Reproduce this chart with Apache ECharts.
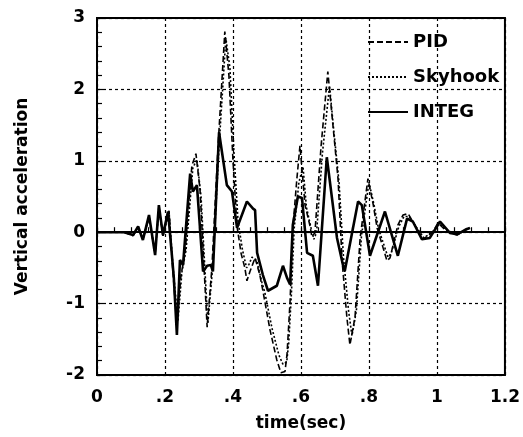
<!DOCTYPE html>
<html>
<head>
<meta charset="utf-8">
<script src="https://cdn.jsdelivr.net/npm/echarts@6/dist/echarts.min.js"></script>
<style>
html,body{margin:0;padding:0;background:#fff;}
#chart{width:523px;height:437px;}
</style>
</head>
<body>
<div id="chart"></div>
<script>
// Tick values
const xTicks = [0, 0.2, 0.4, 0.6, 0.8, 1, 1.2];
const yTicks = [-2, -1, 0, 1, 2, 3];

// INTEG (solid)
const integT = [0, 0.08, 0.106, 0.121, 0.135, 0.153, 0.171, 0.182, 0.194, 0.209, 0.221, 0.226, 0.235, 0.244, 0.253, 0.274, 0.282, 0.294, 0.312, 0.324, 0.335, 0.341, 0.359, 0.382, 0.397, 0.412, 0.441, 0.459, 0.465, 0.471, 0.488, 0.503, 0.529, 0.547, 0.559, 0.568, 0.576, 0.591, 0.603, 0.618, 0.635, 0.65, 0.676, 0.706, 0.724, 0.729, 0.768, 0.779, 0.803, 0.847, 0.885, 0.912, 0.929, 0.956, 0.979, 1.009, 1.038, 1.059, 1.082, 1.097];
const integV = [0, 0, -0.04, 0.08, -0.11, 0.24, -0.32, 0.38, -0.04, 0.29, -0.36, -0.64, -1.44, -0.39, -0.46, 0.82, 0.57, 0.66, -0.55, -0.47, -0.46, -0.55, 1.40, 0.66, 0.57, 0.06, 0.43, 0.33, 0.31, -0.29, -0.6, -0.82, -0.75, -0.47, -0.64, -0.73, 0.1, 0.5, 0.48, -0.29, -0.33, -0.75, 1.05, -0.08, -0.47, -0.54, 0.43, 0.38, -0.33, 0.29, -0.33, 0.19, 0.15, -0.1, -0.08, 0.15, -0.01, -0.03, 0.03, 0.06];

// PID (dashed)
const pidT = [0, 0.08, 0.106, 0.121, 0.135, 0.153, 0.171, 0.182, 0.194, 0.212, 0.221, 0.235, 0.247, 0.259, 0.279, 0.291, 0.303, 0.324, 0.338, 0.356, 0.376, 0.388, 0.4, 0.412, 0.424, 0.435, 0.441, 0.45, 0.465, 0.479, 0.488, 0.509, 0.529, 0.541, 0.553, 0.559, 0.568, 0.576, 0.588, 0.597, 0.612, 0.626, 0.632, 0.641, 0.659, 0.679, 0.694, 0.709, 0.721, 0.735, 0.744, 0.759, 0.774, 0.797, 0.812, 0.824, 0.853, 0.862, 0.885, 0.9, 0.915, 0.929, 0.959, 0.988, 1.003, 1.029, 1.059, 1.097];
const pidV = [0, 0, -0.05, 0.06, -0.1, 0.2, -0.3, 0.35, -0.05, 0.3, -0.4, -1.3, -0.6, -0.3, 0.93, 1.1, 0.6, -1.33, -0.5, 1.2, 2.81, 2.2, 1.0, 0.08, -0.3, -0.5, -0.68, -0.55, -0.36, -0.6, -0.82, -1.37, -1.79, -1.97, -1.95, -1.71, -0.96, 0.05, 0.75, 1.21, 0.38, 0.1, -0.06, -0.01, 1.2, 2.25, 1.5, 0.75, -0.4, -1.19, -1.58, -1.19, -0.08, 0.75, 0.4, 0.06, -0.4, -0.36, 0.1, 0.24, 0.26, 0.15, -0.1, 0.0, 0.13, 0.01, -0.04, 0.08];

// Skyhook (dotted)
const skyT = [0, 0.08, 0.106, 0.121, 0.135, 0.153, 0.171, 0.182, 0.194, 0.212, 0.223, 0.238, 0.25, 0.262, 0.282, 0.294, 0.306, 0.326, 0.341, 0.359, 0.379, 0.391, 0.403, 0.415, 0.428, 0.44, 0.447, 0.456, 0.47, 0.485, 0.494, 0.515, 0.535, 0.547, 0.558, 0.564, 0.572, 0.58, 0.594, 0.606, 0.616, 0.63, 0.638, 0.646, 0.663, 0.684, 0.697, 0.712, 0.725, 0.74, 0.75, 0.763, 0.778, 0.8, 0.815, 0.828, 0.856, 0.865, 0.888, 0.903, 0.918, 0.932, 0.962, 0.99, 1.006, 1.032, 1.062, 1.097];
const skyV = [0, 0, -0.04, 0.07, -0.1, 0.22, -0.3, 0.36, -0.05, 0.28, -0.45, -1.25, -0.55, -0.25, 0.9, 1.02, 0.5, -1.28, -0.45, 1.2, 2.72, 2.3, 1.1, 0.15, -0.25, -0.5, -0.45, -0.35, -0.4, -0.7, -0.85, -1.35, -1.72, -1.85, -1.82, -1.55, -0.85, 0.05, 0.7, 0.92, 0.35, 0.05, -0.1, 0.0, 1.1, 2.05, 1.4, 0.7, -0.35, -1.1, -1.45, -1.1, -0.05, 0.7, 0.38, 0.05, -0.35, -0.3, 0.08, 0.22, 0.22, 0.12, -0.08, 0.02, 0.12, 0.02, -0.03, 0.06];

const zip = (t, v) => t.map((x, i) => [x, v[i]]);
const FONT = 'DejaVu Sans';

const chart = echarts.init(document.getElementById('chart'), null, {renderer: 'canvas'});
chart.setOption({
  animation: false,
  backgroundColor: '#fff',
  grid: {left: 97, right: 18, top: 18, bottom: 59, show: true, borderColor: '#000', borderWidth: 2, backgroundColor: 'transparent'},
  legend: {
    orient: 'vertical', left: 362, top: 28, itemWidth: 40, itemHeight: 14, itemGap: 17,
    itemStyle: {color: 'rgba(0,0,0,0)', borderWidth: 0, opacity: 0},
    textStyle: {fontFamily: FONT, fontWeight: 'bold', fontSize: 18, color: '#000'},
    data: ['PID', 'Skyhook', 'INTEG']
  },
  xAxis: {
    type: 'value', min: xTicks[0], max: xTicks[xTicks.length - 1], interval: 0.2,
    name: 'time(sec)', nameLocation: 'middle', nameGap: 40,
    nameTextStyle: {fontFamily: FONT, fontWeight: 'bold', fontSize: 17, color: '#000'},
    axisLine: {show: true, lineStyle: {color: '#000', width: 2}},
    axisTick: {show: true, inside: true, length: 6, lineStyle: {color: '#000', width: 1.2}},
    minorTick: {show: true, splitNumber: 4, length: 5, lineStyle: {color: '#000', width: 1.2}},
    axisLabel: {margin: 14, fontFamily: FONT, fontWeight: 'bold', fontSize: 17, color: '#000',
      formatter: v => String(Math.round(v * 10) / 10).replace(/^0\./, '.')},
    splitLine: {show: true, lineStyle: {color: '#000', type: [3, 3], width: 1.2}}
  },
  yAxis: {
    type: 'value', min: yTicks[0], max: yTicks[yTicks.length - 1], interval: 1,
    name: 'Vertical acceleration', nameLocation: 'middle', nameGap: 66,
    nameTextStyle: {fontFamily: FONT, fontWeight: 'bold', fontSize: 17, color: '#000'},
    axisLine: {show: true, onZero: false, lineStyle: {color: '#000', width: 2}},
    axisTick: {show: true, inside: true, length: 6, lineStyle: {color: '#000', width: 1.2}},
    minorTick: {show: true, splitNumber: 5, length: 5, lineStyle: {color: '#000', width: 1.2}},
    axisLabel: {margin: 12, fontFamily: FONT, fontWeight: 'bold', fontSize: 17, color: '#000'},
    splitLine: {show: true, lineStyle: {color: '#000', type: [3, 3], width: 1.2}}
  },
  series: [
    {name: 'PID', type: 'line', data: zip(pidT, pidV), symbol: 'none', color: '#000',
      lineStyle: {color: '#000', width: 1.6, type: [6, 3]}},
    {name: 'Skyhook', type: 'line', data: zip(skyT, skyV), symbol: 'none', color: '#000',
      lineStyle: {color: '#000', width: 1.6, type: [2, 2]}},
    {name: 'INTEG', type: 'line', data: zip(integT, integV), symbol: 'none', color: '#000',
      lineStyle: {color: '#000', width: 2.6, type: 'solid'},
      markLine: {silent: true, symbol: 'none', label: {show: false},
        lineStyle: {color: '#000', width: 1.6, type: 'solid'}, data: [{yAxis: 0}]}}
  ]
});
</script>
</body>
</html>
